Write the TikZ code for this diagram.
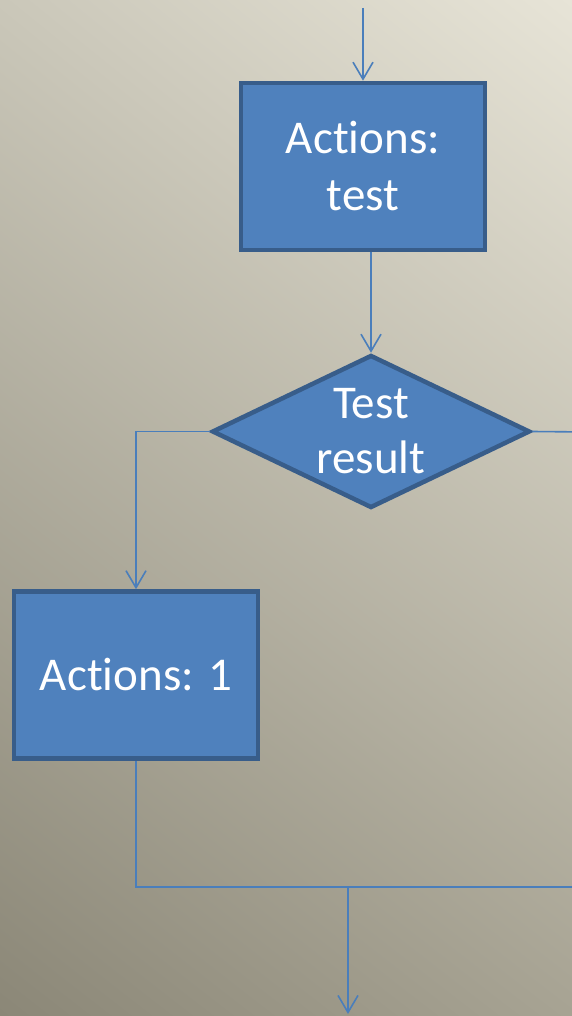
\documentclass[tikz,border=0pt]{standalone}
\usepackage{fontspec}
\setmainfont{Carlito}[Ligatures={NoCommon}]
\usepackage{tikz}
\usetikzlibrary{arrows.meta, shapes.geometric, shadings}
\usepackage{xcolor}

\definecolor{boxfill}{HTML}{4F81BD}
\definecolor{boxline}{HTML}{385D8A}
\definecolor{wire}{HTML}{4A7EBB}
\definecolor{bgul}{HTML}{CAC7B9}
\definecolor{bgur}{HTML}{E7E4D7}
\definecolor{bgll}{HTML}{8B8777}
\definecolor{bglr}{HTML}{A7A393}

\begin{document}
\begin{tikzpicture}[x=1pt, y=-1pt,
    >={Straight Barb[length=17pt, width=20pt]},
    flow/.style={draw=wire, line width=1.6pt},
    actbox/.style={rectangle, draw=boxline, fill=boxfill, line width=4.5pt,
      minimum width=244pt, minimum height=167pt, text=white, align=center,
      font=\fontsize{47}{57}\selectfont},
    testbox/.style={diamond, draw=boxline, fill=boxfill, line width=4.5pt,
      inner sep=0pt, aspect=2.08, minimum width=318pt, minimum height=153pt,
      text=white, align=center, font=\fontsize{47}{57}\selectfont}]
    \useasboundingbox (0,0) rectangle (572,1016);
    \clip (0,0) rectangle (572,1016);
    \shade[upper left=bgul, upper right=bgur, lower left=bgll, lower right=bglr]
      (0,0) rectangle (572,1016);

    % boxes
    \node[actbox]  (test) at (363,166.5) {Actions:\\test};
    \node[testbox] (res)  at (371,431.5) {\raisebox{-2pt}{Test}\\result};
    \node[actbox]  (act1) at (136,675)   {Actions: 1};

    \coordinate (start) at (363,8);
    \coordinate (rbend) at (590,432);
    \coordinate (join)  at (348,887);
    \coordinate (stop)  at (348,1014);

    % connectors
    \draw[flow, ->] (start) -- (test.north);
    \draw[flow, ->] (res.north |- test.south) -- (res.north);
    \draw[flow, ->] (res.west) -| (act1.north);
    \draw[flow] (res.east) -- (rbend) |- (join);
    \draw[flow] (act1.south) |- (join);
    \draw[flow, ->] (join) -- (stop);
\end{tikzpicture}
\end{document}
